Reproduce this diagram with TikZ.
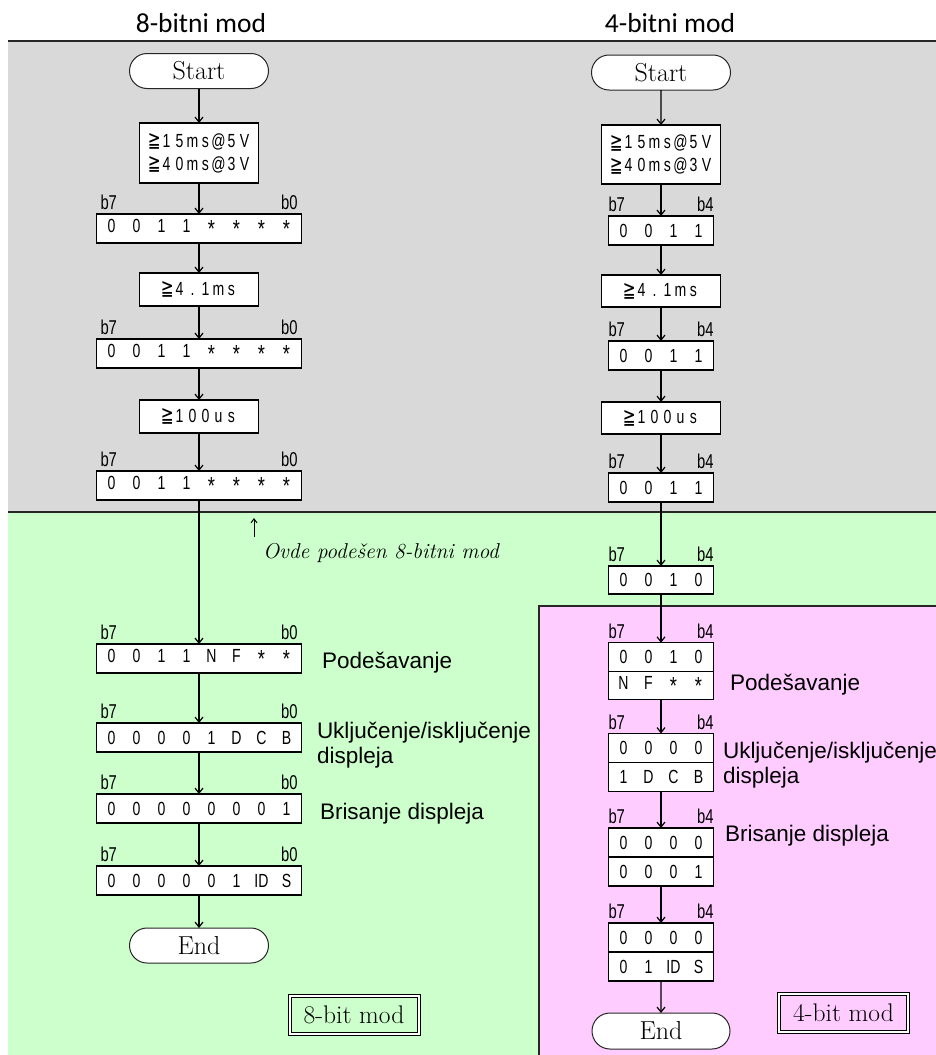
\documentclass[tikz,border=0pt]{standalone}
\usepackage{fontspec}
\usetikzlibrary{arrows.meta,shapes.misc}
\newfontfamily\gfont[FakeStretch=0.74]{Liberation Sans}
\newfontfamily\symfont[FakeStretch=0.7]{DejaVu Sans}
\newfontfamily\titlefont{Carlito}
\newfontfamily\labfont{Liberation Sans}
\definecolor{grayreg}{RGB}{217,217,217}
\definecolor{greenreg}{RGB}{204,255,204}
\definecolor{pinkreg}{RGB}{255,204,255}
\newlength\cellw
\def\sprd#1{\ifx\relax#1\else\makebox[\cellw]{#1}\expandafter\sprd\fi}
\newcommand\cells[2]{\setlength\cellw{#1}\sprd#2\relax}
\newcommand\gtq{\raisebox{-0.5pt}{\scalebox{1.15}{\symfont ≧}}\hspace{-1.5pt}}
\newcommand\astr{\raisebox{-4.5pt}{\scalebox{1.3}{*}}}
\tikzset{
  every node/.style={inner sep=0pt, outer sep=0pt},
  regline/.style={line width=1.4pt, black!85},
  bitbox/.style={draw=black, fill=white, line width=1.2pt, minimum height=29pt,
    font=\gfont\fontsize{19}{19}\selectfont},
  bitEight/.style={bitbox, minimum width=205pt},
  bitFour/.style={bitbox, minimum width=105pt},
  waitbox/.style={draw=black, fill=white, line width=1.2pt, minimum width=119pt,
    minimum height=33pt, align=center, font=\gfont\fontsize{19}{23}\selectfont},
  term/.style={rounded rectangle, draw=black!85, fill=white, line width=1pt,
    minimum width=139pt, minimum height=35pt, font=\fontsize{26}{26}\selectfont},
  bitlbl/.style={font=\gfont\fontsize{20}{20}\selectfont},
  arr/.style={line width=1.2pt, -{Straight Barb[length=5pt,width=8pt]}},
  desc/.style={font=\labfont\fontsize{22.5}{25}\selectfont, align=left},
  title/.style={font=\titlefont\fontsize{27.5}{27.5}\selectfont, anchor=base},
  modebox/.style={draw=black, double, double distance=2pt, line width=1pt,
    minimum width=129pt, minimum height=38pt, font=\fontsize{25.5}{25.5}\selectfont},
}
\begin{document}
\begin{tikzpicture}[x=1pt,y=-1pt]
\useasboundingbox (0,0) rectangle (936,1055);
% regions
\fill[grayreg] (8,41) rectangle (936,512);
\fill[greenreg] (8,512) rectangle (936,1055);
\fill[pinkreg] (539,606) rectangle (936,1055);
\draw[regline] (8,41) -- (936,41);
\draw[regline] (8,512) -- (936,512);
\draw[regline] (539,1055) -- (539,606) -- (936,606);
% titles
\node[title] (t8) at (201,32) {8-bitni mod};
\node[title] (t4) at (670,32) {4-bitni mod};

% ===== 8-bit chain =====
\node[term] (s8) at (199,71) {Start};
\node[waitbox, minimum height=60pt] (w81) at (199,153)
  {\cells{13pt}{\gtq 15ms@5V}\\\cells{13pt}{\gtq 40ms@3V}};
\node[bitEight] (r81) at (199,228.5) {\cells{25pt}{0011\astr\astr\astr\astr}};
\node[waitbox] (w82) at (199,289.5) {\cells{13pt}{\gtq 4.1ms}};
\node[bitEight] (r82) at (199,353.5) {\cells{25pt}{0011\astr\astr\astr\astr}};
\node[waitbox] (w83) at (199,416.5) {\cells{13pt}{\gtq 100us}};
\node[bitEight] (r83) at (199,485.5) {\cells{25pt}{0011\astr\astr\astr\astr}};
\node[bitEight] (r84) at (199,658.5) {\cells{25pt}{0011NF\astr\astr}};
\node[bitEight] (r85) at (199,737.5) {\cells{25pt}{00001DCB}};
\node[bitEight] (r86) at (199,808.5) {\cells{25pt}{00000001}};
\node[bitEight] (r87) at (199,880.5) {\cells{25pt}{000001{ID}S}};
\node[term] (e8) at (199,945.5) {End};

\foreach \r in {r81,r82,r83,r84,r85,r86,r87}{
  \node[bitlbl, anchor=south west, xshift=4pt, yshift=4pt] (\r hi) at (\r.north west) {b7};
  \node[bitlbl, anchor=south east, xshift=-4pt, yshift=4pt] (\r lo) at (\r.north east) {b0};
}
\draw[arr] (s8) -- (w81);
\draw[arr] (w81) -- (r81);
\draw[arr] (r81) -- (w82);
\draw[arr] (w82) -- (r82);
\draw[arr] (r82) -- (w83);
\draw[arr] (w83) -- (r83);
\draw[arr] (r83) -- (r84);
\draw[arr] (r84) -- (r85);
\draw[arr] (r85) -- (r86);
\draw[arr] (r86) -- (r87);
\draw[arr] (r87) -- (e8);

\node[desc, anchor=base west] (d81) at (322,668) {Podešavanje};
\node[desc, anchor=west] (d82) at (317,745) {Uključenje/isključenje\\displeja};
\node[desc, anchor=base west] (d83) at (320,819) {Brisanje displeja};

\coordinate (notetail) at (254,537);
\coordinate (notetip) at (254,518);
\draw[line width=1pt, -{Straight Barb[length=4pt,width=6pt]}] (notetail) -- (notetip);
\node[anchor=base west, font=\itshape\fontsize{21.5}{21.5}\selectfont] (note) at (263,558)
  {Ovde podešen 8-bitni mod};

\node[modebox] (m8) at (354,1014.5) {8-bit mod\hspace{8pt}};

% ===== 4-bit chain =====
\node[term] (s4) at (661,72.5) {Start};
\node[waitbox, minimum height=59pt] (w41) at (661,154.5)
  {\cells{13pt}{\gtq 15ms@5V}\\\cells{13pt}{\gtq 40ms@3V}};
\node[bitFour] (q41) at (661,230.5) {\cells{25pt}{0011}};
\node[waitbox, minimum height=32pt] (w42) at (661,291) {\cells{13pt}{\gtq 4.1ms}};
\node[bitFour] (q42) at (661,355.5) {\cells{25pt}{0011}};
\node[waitbox, minimum height=32pt] (w43) at (661,418) {\cells{13pt}{\gtq 100us}};
\node[bitFour] (q43) at (661,487.5) {\cells{25pt}{0011}};
\node[bitFour, minimum height=28pt] (q44) at (661,580) {\cells{25pt}{0010}};
\node[bitFour, minimum height=28.5pt] (q45) at (661,657) {\cells{25pt}{0010}};
\node[bitFour, minimum height=28.5pt, anchor=north] (q45b) at (q45.south) {\cells{25pt}{NF\astr\astr}};
\node[bitFour, minimum height=29pt] (q46) at (661,748) {\cells{25pt}{0000}};
\node[bitFour, minimum height=29pt, anchor=north] (q46b) at (q46.south) {\cells{25pt}{1DCB}};
\node[bitFour, minimum height=29pt] (q47) at (661,842.5) {\cells{25pt}{0000}};
\node[bitFour, minimum height=29pt, anchor=north] (q47b) at (q47.south) {\cells{25pt}{0001}};
\node[bitFour, minimum height=29pt] (q48) at (661,937.5) {\cells{25pt}{0000}};
\node[bitFour, minimum height=29pt, anchor=north] (q48b) at (q48.south) {\cells{25pt}{01{ID}S}};
\node[term, minimum width=138pt, minimum height=36pt] (e4) at (661,1031) {End};

\foreach \r in {q41,q42,q43,q44,q45,q46,q47,q48}{
  \node[bitlbl, anchor=south west, yshift=4pt] (\r hi) at (\r.north west) {b7};
  \node[bitlbl, anchor=south east, yshift=4pt] (\r lo) at (\r.north east) {b4};
}
\draw[arr] (s4) -- (w41);
\draw[arr] (w41) -- (q41);
\draw[arr] (q41) -- (w42);
\draw[arr] (w42) -- (q42);
\draw[arr] (q42) -- (w43);
\draw[arr] (w43) -- (q43);
\draw[arr] (q43) -- (q44);
\draw[arr] (q44) -- (q45);
\draw[arr] (q45b) -- (q46);
\draw[arr] (q46b) -- (q47);
\draw[arr] (q47b) -- (q48);
\draw[arr] (q48b) -- (e4);

\node[desc, anchor=base west] (d41) at (730,690) {Podešavanje};
\node[desc, anchor=west] (d42) at (723,765) {Uključenje/isključenje\\displeja};
\node[desc, anchor=base west] (d43) at (725,841) {Brisanje displeja};

\node[modebox] (m4) at (843.5,1012.5) {4-bit mod\hspace{8pt}};
\end{tikzpicture}
\end{document}
